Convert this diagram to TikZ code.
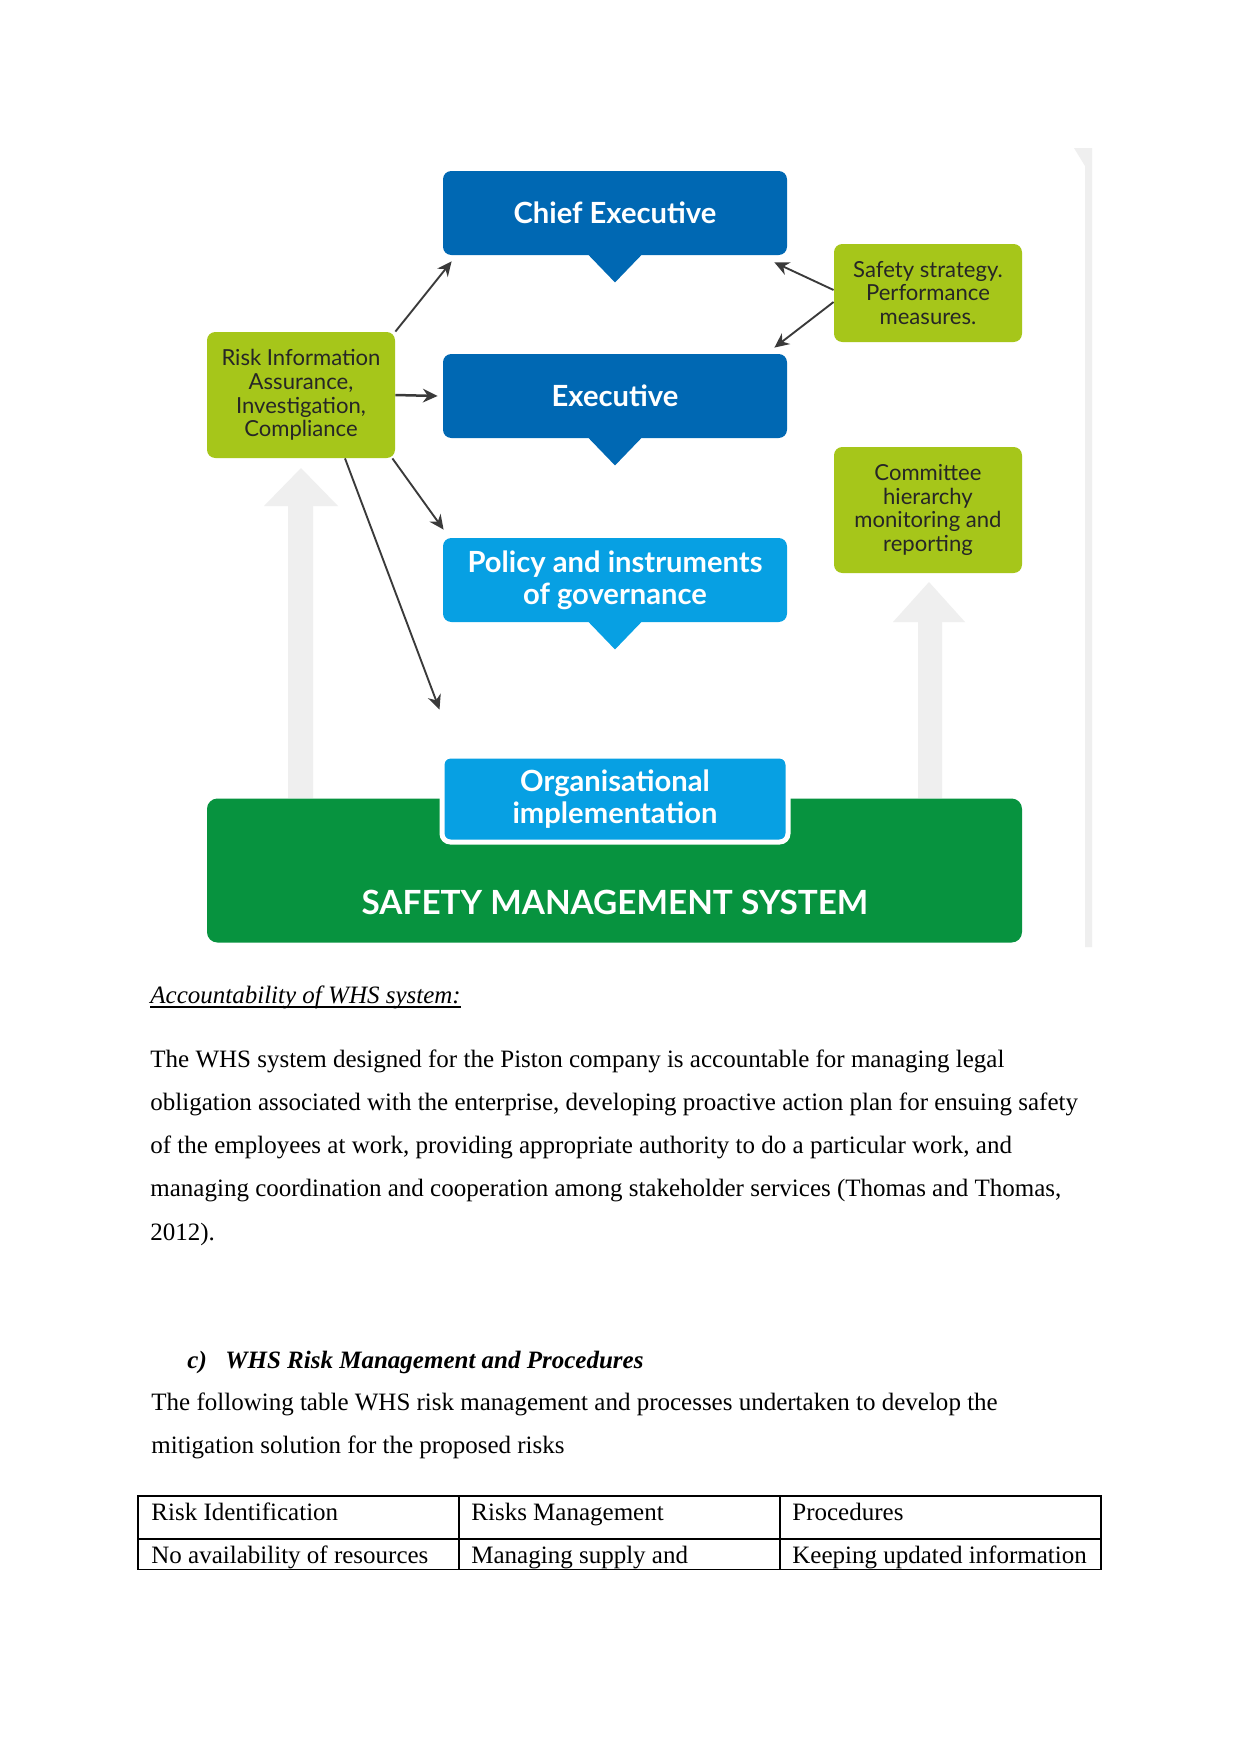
\documentclass[tikz,border=0pt]{standalone}
\usepackage{fontspec}
\setmainfont{Liberation Serif}
\newfontfamily\diafont{Lato}
\usepackage{tikz}
\usetikzlibrary{positioning,calc,arrows.meta}
\definecolor{whsdark}{HTML}{0068B3}
\definecolor{whslight}{HTML}{07A0E3}
\definecolor{whslime}{HTML}{A6C61A}
\definecolor{whsgreen}{HTML}{07933F}
\definecolor{whsghost}{HTML}{EFEFEF}
\definecolor{whsarrow}{HTML}{3A3A3A}
\newdimen\pxu \pxu=0.48pt

\begin{document}
\begin{tikzpicture}[x=0.48pt,y=-0.48pt,
  bluebox/.style ={rounded corners=4pt, minimum width=344*\pxu, minimum height=84*\pxu,
                   inner sep=0pt, align=center, text=white, font=\diafont\bfseries\fontsize{14}{15.4}\selectfont},
  limebox/.style ={fill=whslime, rounded corners=4pt, minimum width=188*\pxu, inner sep=0pt,
                   align=center, text=black!85, font=\diafont\fontsize{10.6}{11.4}\selectfont},
  conn/.style    ={draw=whsarrow, line width=0.9pt, -{Stealth[length=7pt,width=6.5pt]}},
  ghost/.style   ={fill=whsghost},
  body/.style    ={anchor=base west, inner sep=0pt, font=\fontsize{12}{14}\selectfont},
  cell/.style    ={draw=black, line width=0.5pt},
]
\useasboundingbox[fill=white] (0,0) rectangle (1241,1754);

% faint strip along the right edge of the figure
\fill[whsghost] (1074,148) -- (1092,148) -- (1092,947) -- (1085,947) -- (1085,166) -- cycle;

% big up arrows from the safety management system
\fill[ghost] (288,798) -- (288,506) -- (264,506) -- (301,468) -- (338,506) -- (313,506) -- (313,798) -- cycle;
\fill[ghost] (918,798) -- (918,622) -- (893,622) -- (929,582) -- (965,622) -- (942,622) -- (942,798) -- cycle;

% safety management system base
\node[fill=whsgreen, rounded corners=5pt, minimum width=815*\pxu, minimum height=144*\pxu, inner sep=0pt]
  (sms) at (614.5,870.5) {};
\node[text=white, font=\diafont\bfseries\fontsize{16}{18}\selectfont] (smstext) at (615,902) {SAFETY MANAGEMENT SYSTEM};

% blue call-out boxes
\node[bluebox, fill=whsdark]  (chief)  at (615,213) {Chief Executive};
\node[bluebox, fill=whsdark]  (exec)   at (615,396) {Executive};
\node[bluebox, fill=whslight] (policy) at (615,580) {Policy and instruments\\of governance};
\foreach \n/\c in {chief/whsdark, exec/whsdark, policy/whslight} {
  \fill[\c] (\n.south) ++(-27,-1) -- ++(54,0) -- ++(-27,28) -- cycle;
}
\node[bluebox, fill=whslight, draw=white, line width=2.4pt, minimum width=346*\pxu, minimum height=86*\pxu]
  (org) at (615,799) {Organisational\\implementation};

% green side boxes
\node[limebox, minimum height=126*\pxu] (risk)   at (301,395)
  {Risk Information\\Assurance,\\Investigation,\\Compliance};
\node[limebox, minimum height=98*\pxu]  (safety) at (928,293)
  {Safety strategy.\\Performance\\measures.};
\node[limebox, minimum height=126*\pxu] (comm)   at (928,510)
  {Committee\\hierarchy\\monitoring and\\reporting};

% connectors
\draw[conn] (risk.north east) -- ($(chief.south west)+(9,6)$);
\draw[conn, line width=1.2pt] (risk.east) -- ($(exec.west)+(-5,0)$);
\draw[conn] ($(risk.south east)+(-3,0)$) -- ($(policy.north west)+(1,-8)$);
\draw[conn] ($(risk.south)+(44,0)$) -- ($(org.north west)+(0,-44)$);
\draw[conn] ($(safety.west)+(0,-3)$) -- ($(chief.south east)+(-13,7)$);
\draw[conn] ($(safety.west)+(0,9)$) -- ($(exec.north east)+(-13,-6)$);

% text below the figure
\node[body, font=\fontsize{12}{14}\selectfont\itshape] (acc) at (150,1003) {Accountability of WHS system:};
\draw[line width=0.5pt] ($(acc.base west)+(0,4)$) -- ($(acc.base east)+(0,4)$);
\foreach \i/\line in {%
  0/{The WHS system designed for the Piston company is accountable for managing legal},
  1/{obligation associated with the enterprise, developing proactive action plan for ensuing safety},
  2/{of the employees at work, providing appropriate authority to do a particular work, and},
  3/{managing coordination and cooperation among stakeholder services (Thomas and Thomas,},
  4/{2012).}%
} {
  \node[body] (para\i) at (150,1067+\i*43.3) {\line};
}
\node[body, font=\fontsize{12}{14}\selectfont\bfseries\itshape] (secc) at (187,1368) {c)};
\node[body, font=\fontsize{12}{14}\selectfont\bfseries\itshape] (sectitle) at (225,1368) {WHS Risk Management and Procedures};
\node[body] (intro0) at (151,1410) {The following table WHS risk management and processes undertaken to develop the};
\node[body] (intro1) at (151,1453) {mitigation solution for the proposed risks};

% table (first two rows)
\draw[cell] (138,1496) rectangle (1101,1569);
\draw[cell] (138,1539) -- (1101,1539);
\draw[cell] (459,1496) -- (459,1569);
\draw[cell] (780,1496) -- (780,1569);
\foreach \x/\a/\b in {151/Risk Identification/No availability of resources,
                      471/Risks Management/Managing supply and,
                      792/Procedures/Keeping updated information} {
  \node[body] at (\x,1520) {\a};
  \node[body] at (\x,1563) {\b};
}
\end{tikzpicture}
\end{document}
